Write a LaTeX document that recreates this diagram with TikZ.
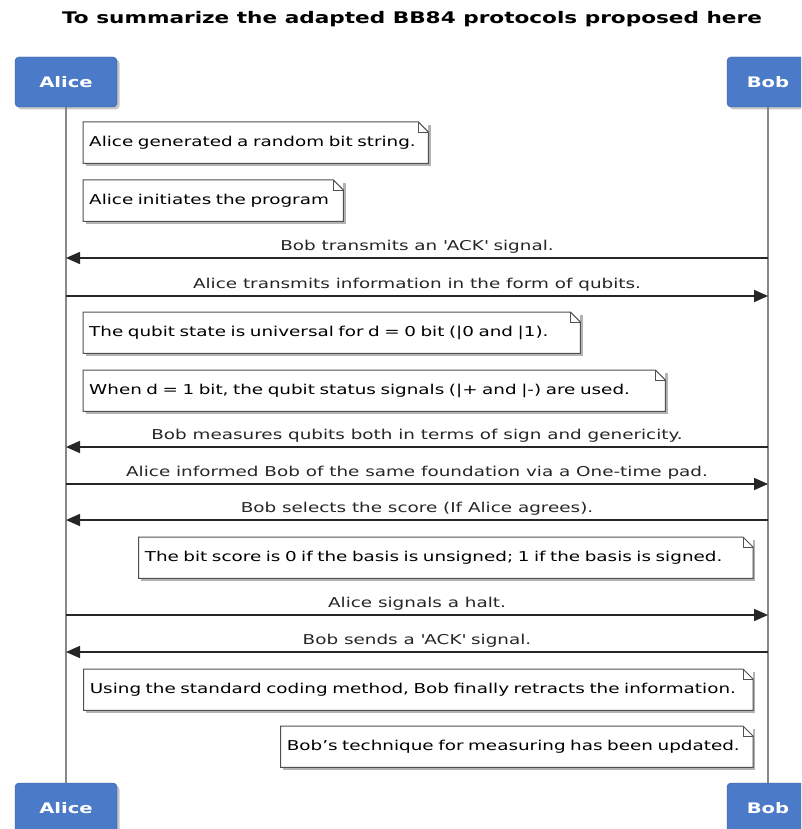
\documentclass[tikz,border=0pt]{standalone}
\usepackage{fontspec}
\setmainfont{DejaVu Sans}[FakeStretch=1.35]
\usetikzlibrary{arrows.meta,shadows}
\definecolor{actorblue}{RGB}{74,122,200}
\definecolor{actorrim}{RGB}{50,88,156}
\definecolor{lifegray}{RGB}{135,135,135}
\definecolor{msgdark}{RGB}{38,38,38}
\definecolor{noterim}{RGB}{80,80,80}
\def\dogear#1{%
  \draw[noterim, line width=1pt] (#1.north west) -- ([xshift=-10pt]#1.north east)
    -- ([yshift=-10pt]#1.north east) -- (#1.south east) -- (#1.south west) -- cycle;
  \draw[noterim, line width=.8pt] ([xshift=-10pt]#1.north east) |- ([yshift=-10pt]#1.north east);}

\begin{document}
\begin{tikzpicture}[>={Triangle[length=14pt,width=12pt]},
  actor/.style={fill=actorblue, draw=actorrim, rounded corners=4pt, text=white, minimum height=50pt,
    font=\fontsize{14.5}{17}\selectfont\bfseries,
    drop shadow={shadow xshift=2.5pt, shadow yshift=-2.5pt, opacity=.45}},
  note/.style={fill=white, minimum height=41pt, inner xsep=6pt, text width=#1, align=left,
    font=\fontsize{13.6}{16}\selectfont,
    drop shadow={shadow xshift=2.5pt, shadow yshift=-2.5pt, opacity=.6}},
  msg/.style={->, color=msgdark, line width=1.6pt, font=\fontsize{13.6}{16}\selectfont},
  lifeline/.style={draw=lifegray, line width=1.5pt}]
\useasboundingbox (0pt, 0pt) rectangle (801pt, -829pt);
\clip (0pt, 0pt) rectangle (801pt, -829pt);
\draw (412pt, -19pt)node[font=\fontsize{16}{20}\selectfont\bfseries](title){To summarize the adapted BB84 protocols proposed here};
% participants
\draw (66pt, -82pt)node[actor,minimum width=102pt](alicetop){Alice};
\draw (768pt, -82pt)node[actor,minimum width=82pt](bobtop){Bob};
\draw (66pt, -808pt)node[actor,minimum width=102pt](alicebot){Alice};
\draw (768pt, -808pt)node[actor,minimum width=82pt](bobbot){Bob};
\draw[lifeline] (alicetop) -- (alicebot);
\draw[lifeline] (bobtop) -- (bobbot);
% notes
\draw (83pt, -122pt)node[note=333pt,anchor=north west](n1){Alice generated a random bit string.};
\draw (83pt, -180pt)node[note=248pt,anchor=north west](n2){Alice initiates the program};
\draw (83pt, -312pt)node[note=485pt,anchor=north west](n3){The qubit state is universal for d = 0 bit (|0 and |1).};
\draw (83pt, -370pt)node[note=570pt,anchor=north west](n4){When d = 1 bit, the qubit status signals (|+ and |-) are used.};
\draw (753pt, -537pt)node[note=602pt,anchor=north east](n5){The bit score is 0 if the basis is unsigned; 1 if the basis is signed.};
\draw (753pt, -669pt)node[note=657pt,anchor=north east](n6){Using the standard coding method, Bob finally retracts the information.};
\draw (753pt, -726pt)node[note=460pt,anchor=north east](n7){Bob’s technique for measuring has been updated.};
\dogear{n1} \dogear{n2} \dogear{n3} \dogear{n4} \dogear{n5} \dogear{n6} \dogear{n7}
% message ends on the lifelines
\coordinate (alice1) at (alicetop |- 0pt, -258pt); \coordinate (bob1) at (bobtop |- 0pt, -258pt);
\coordinate (alice2) at (alicetop |- 0pt, -296pt); \coordinate (bob2) at (bobtop |- 0pt, -296pt);
\coordinate (alice3) at (alicetop |- 0pt, -447pt); \coordinate (bob3) at (bobtop |- 0pt, -447pt);
\coordinate (alice4) at (alicetop |- 0pt, -484pt); \coordinate (bob4) at (bobtop |- 0pt, -484pt);
\coordinate (alice5) at (alicetop |- 0pt, -520pt); \coordinate (bob5) at (bobtop |- 0pt, -520pt);
\coordinate (alice6) at (alicetop |- 0pt, -615pt); \coordinate (bob6) at (bobtop |- 0pt, -615pt);
\coordinate (alice7) at (alicetop |- 0pt, -652pt); \coordinate (bob7) at (bobtop |- 0pt, -652pt);
\path[msg] (bob1) edge node[above=1pt]{Bob transmits an \textquotesingle ACK\textquotesingle{} signal.}(alice1);
\path[msg] (alice2) edge node[above=1pt]{Alice transmits information in the form of qubits.}(bob2);
\path[msg] (bob3) edge node[above=1pt]{Bob measures qubits both in terms of sign and genericity.}(alice3);
\path[msg] (alice4) edge node[above=1pt]{Alice informed Bob of the same foundation via a One-time pad.}(bob4);
\path[msg] (bob5) edge node[above=1pt]{Bob selects the score (If Alice agrees).}(alice5);
\path[msg] (alice6) edge node[above=1pt]{Alice signals a halt.}(bob6);
\path[msg] (bob7) edge node[above=1pt]{Bob sends a \textquotesingle ACK\textquotesingle{} signal.}(alice7);
\end{tikzpicture}
\end{document}
